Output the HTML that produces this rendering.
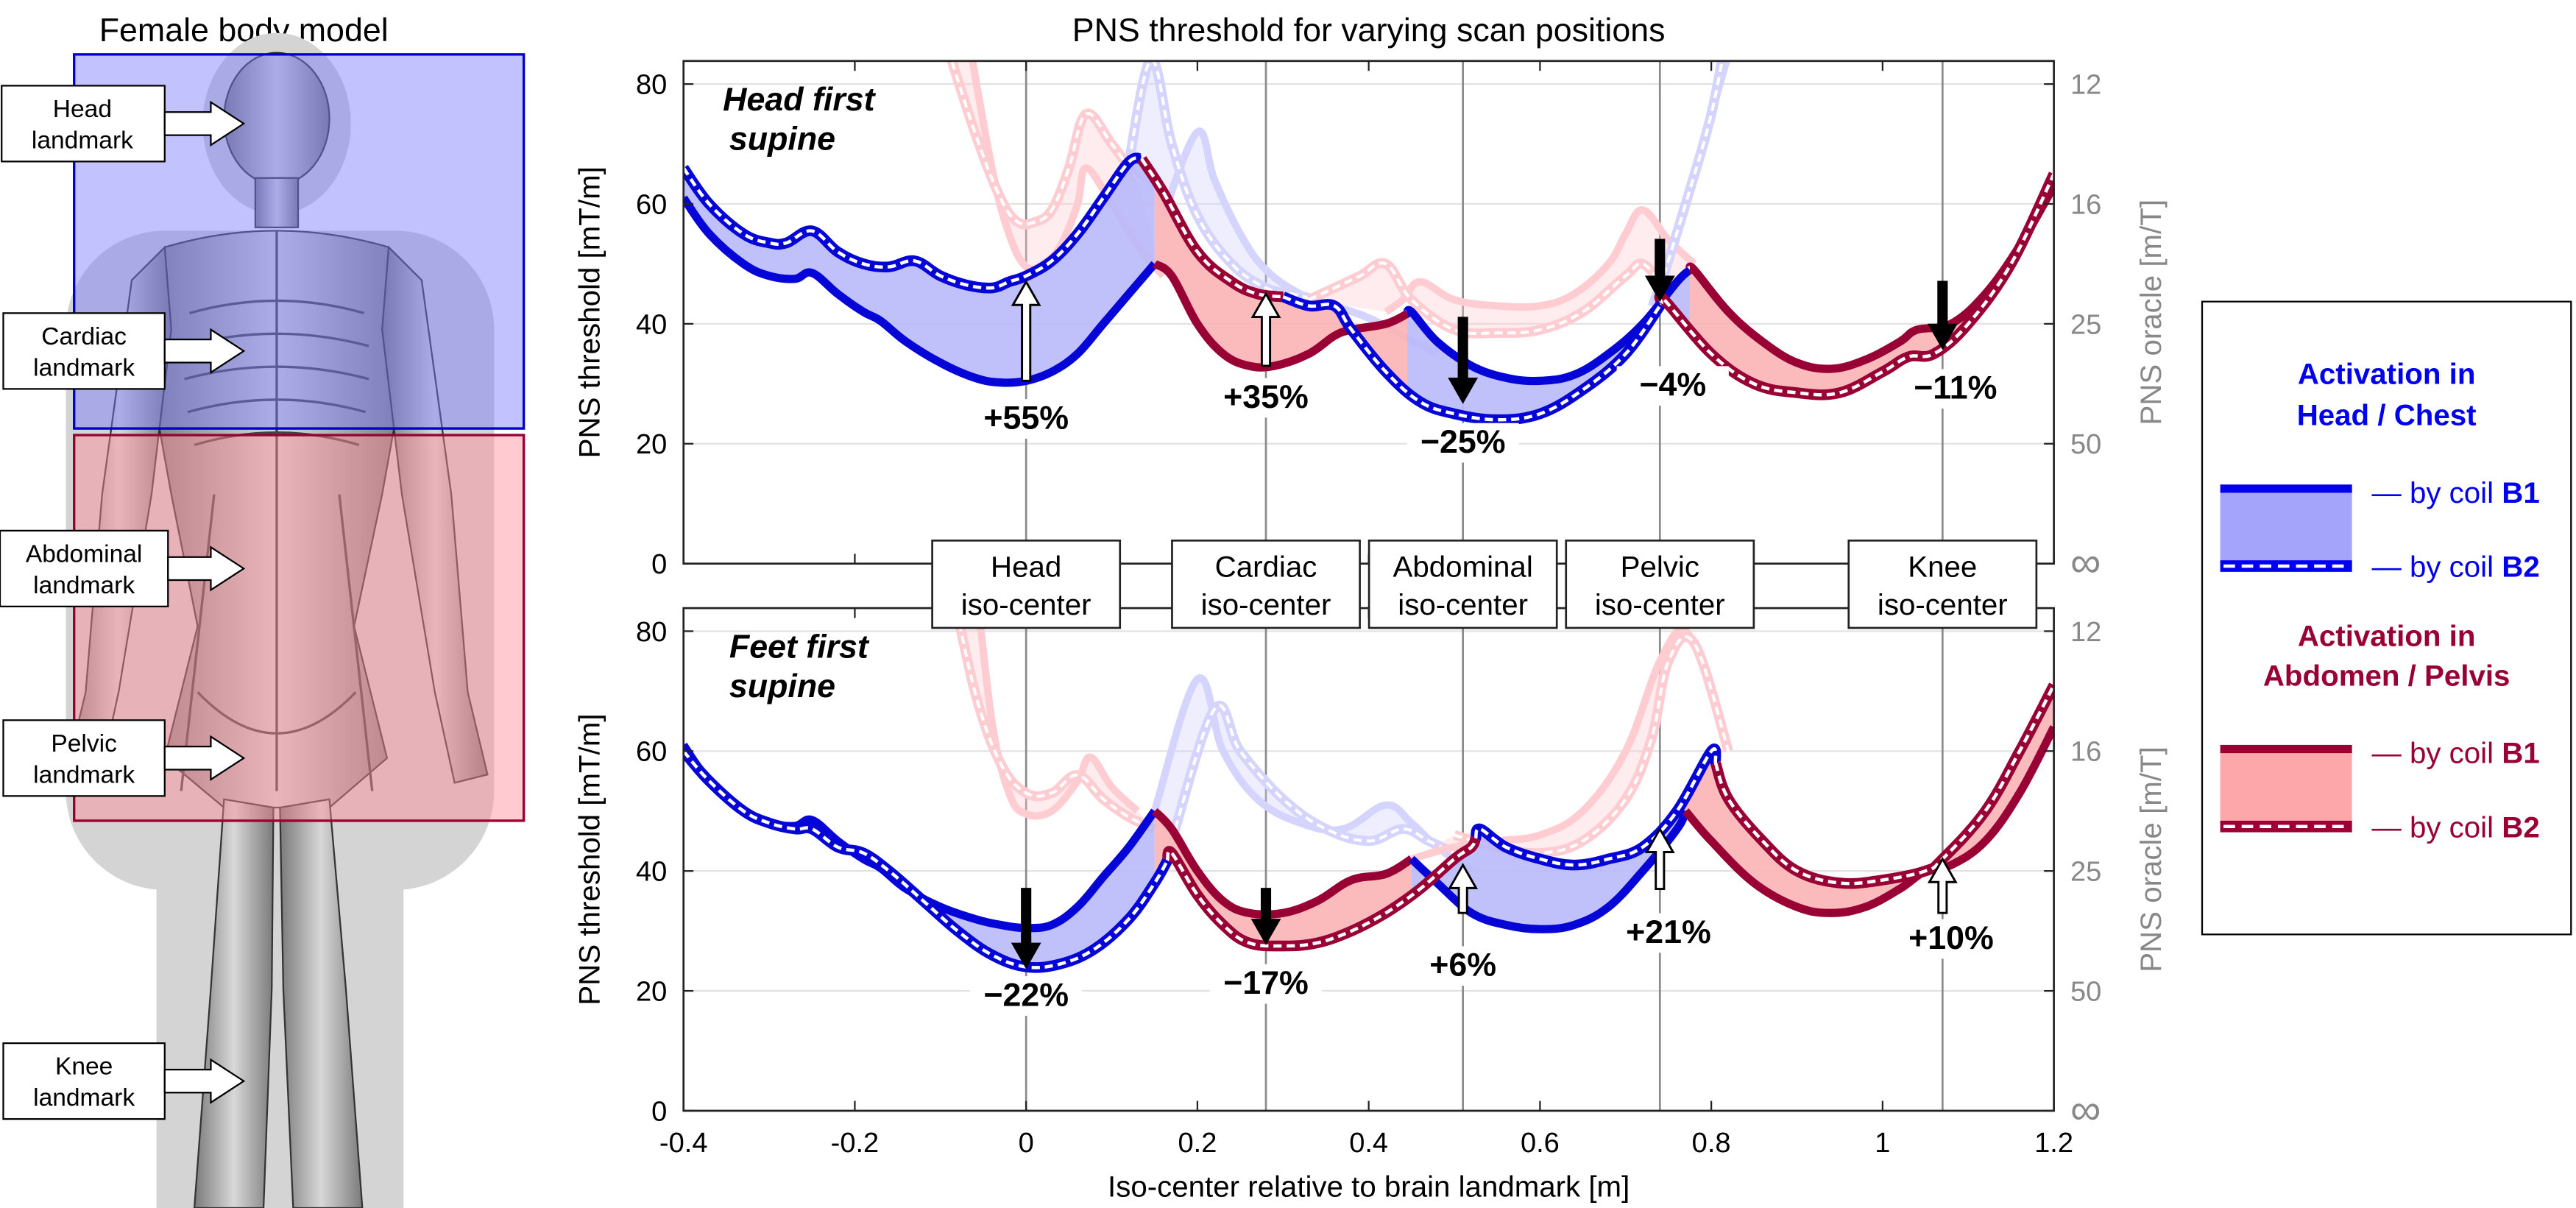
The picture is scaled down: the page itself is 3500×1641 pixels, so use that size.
<!DOCTYPE html>
<html><head><meta charset="utf-8">
<style>
html,body{margin:0;padding:0;background:#fff;}
svg{display:block;font-family:"Liberation Sans",sans-serif;}
</style></head>
<body>
<svg id="fig" width="3500" height="1641" viewBox="0 0 1564 733" preserveAspectRatio="none" xmlns="http://www.w3.org/2000/svg">
<defs>
<clipPath id="clipTop"><rect x="415" y="37" width="832" height="305"/></clipPath>
<clipPath id="clipBot"><rect x="415" y="369" width="832" height="305"/></clipPath>
<linearGradient id="bodyG" x1="0" x2="1" y1="0" y2="0">
<stop offset="0" stop-color="#7a7a7a"/><stop offset="0.5" stop-color="#d8d8d8"/><stop offset="1" stop-color="#7a7a7a"/></linearGradient>
</defs>

<g>
<text x="148" y="25" font-size="20" text-anchor="middle">Female body model</text>
<g fill="#d4d4d4">
<ellipse cx="168" cy="75" rx="45" ry="55"/>
<rect x="40" y="140" width="260" height="400" rx="60"/>
<rect x="95" y="480" width="150" height="253"/>
</g>
<g fill="url(#bodyG)" stroke="#333" stroke-width="1">
<ellipse cx="168" cy="72" rx="32" ry="40"/>
<rect x="155" y="108" width="26" height="30"/>
<path d="M100,150 Q168,130 236,150 L250,200 L232,300 L215,380 L235,460 L200,490 L136,490 L100,460 L120,380 L104,300 L86,200 Z"/>
<path d="M100,150 L80,170 L62,300 L52,420 L40,470 L60,475 L72,420 L92,300 L104,200 Z"/>
<path d="M236,150 L256,170 L274,300 L284,420 L296,470 L276,475 L264,420 L244,300 L232,200 Z"/>
<path d="M136,485 L128,600 L118,733 L160,733 L165,600 L166,490 Z"/>
<path d="M170,490 L172,600 L178,733 L220,733 L210,600 L200,485 Z"/>
</g>
<g stroke="#444" stroke-width="1.5" fill="none">
<path d="M115,190 Q168,175 221,190"/><path d="M112,210 Q168,195 224,210"/><path d="M112,230 Q168,215 224,230"/><path d="M114,250 Q168,235 222,250"/><path d="M118,270 Q168,255 218,270"/>
<line x1="168" y1="140" x2="168" y2="480"/>
<path d="M120,420 Q168,470 216,420"/><path d="M130,300 L110,480"/><path d="M206,300 L226,480"/>
</g>
<rect x="45" y="33" width="273" height="227" fill="rgba(120,120,255,0.45)" stroke="#0000cc" stroke-width="1.5"/>
<rect x="45" y="264" width="273" height="234" fill="rgba(255,140,150,0.45)" stroke="#990033" stroke-width="1.5"/>
<g font-size="15" text-anchor="middle">
<g><rect x="1" y="52" width="99" height="46" fill="#fff" stroke="#000"/><text x="50" y="71">Head</text><text x="50" y="90">landmark</text><path d="M100,68 L128,68 L128,62 L148,75 L128,88 L128,82 L100,82Z" fill="#fff" stroke="#000"/></g>
<g><rect x="2" y="190" width="98" height="46" fill="#fff" stroke="#000"/><text x="51" y="209">Cardiac</text><text x="51" y="228">landmark</text><path d="M100,206 L128,206 L128,200 L148,213 L128,226 L128,220 L100,220Z" fill="#fff" stroke="#000"/></g>
<g><rect x="0" y="322" width="102" height="46" fill="#fff" stroke="#000"/><text x="51" y="341">Abdominal</text><text x="51" y="360">landmark</text><path d="M102,338 L128,338 L128,332 L148,345 L128,358 L128,352 L102,352Z" fill="#fff" stroke="#000"/></g>
<g><rect x="2" y="437" width="98" height="46" fill="#fff" stroke="#000"/><text x="51" y="456">Pelvic</text><text x="51" y="475">landmark</text><path d="M100,453 L128,453 L128,447 L148,460 L128,473 L128,467 L100,467Z" fill="#fff" stroke="#000"/></g>
<g><rect x="2" y="633" width="98" height="46" fill="#fff" stroke="#000"/><text x="51" y="652">Knee</text><text x="51" y="671">landmark</text><path d="M100,649 L128,649 L128,643 L148,656 L128,669 L128,663 L100,663Z" fill="#fff" stroke="#000"/></g>
</g>
</g>

<text x="831" y="25" font-size="20" text-anchor="middle">PNS threshold for varying scan positions</text>
<g id="chart"></g>

<g>
<rect x="1337" y="183" width="224" height="384" fill="#fff" stroke="#000" stroke-width="1"/>
<g font-weight="bold" font-size="18" text-anchor="middle" fill="#0000ee">
<text x="1449" y="233">Activation in</text>
<text x="1449" y="258">Head / Chest</text></g>
<rect x="1348" y="298" width="80" height="45" fill="#a4a4fb"/>
<rect x="1348" y="294" width="80" height="5" fill="#0000ee"/>
<rect x="1348" y="340" width="80" height="7" fill="#0000ee"/>
<line x1="1350" y1="343.5" x2="1426" y2="343.5" stroke="#fff" stroke-width="2" stroke-dasharray="7,4"/>
<g font-size="18" fill="#0000ee">
<text x="1440" y="305">— by coil <tspan font-weight="bold">B1</tspan></text>
<text x="1440" y="350">— by coil <tspan font-weight="bold">B2</tspan></text></g>
<g font-weight="bold" font-size="18" text-anchor="middle" fill="#990033">
<text x="1449" y="392">Activation in</text>
<text x="1449" y="416">Abdomen / Pelvis</text></g>
<rect x="1348" y="456" width="80" height="45" fill="#fda7aa"/>
<rect x="1348" y="452" width="80" height="5" fill="#990033"/>
<rect x="1348" y="498" width="80" height="7" fill="#990033"/>
<line x1="1350" y1="501.5" x2="1426" y2="501.5" stroke="#fff" stroke-width="2" stroke-dasharray="7,4"/>
<g font-size="18" fill="#990033">
<text x="1440" y="463">— by coil <tspan font-weight="bold">B1</tspan></text>
<text x="1440" y="508">— by coil <tspan font-weight="bold">B2</tspan></text></g>
</g>
</svg>
<script>
const xTicks = [-0.4,-0.2,0,0.2,0.4,0.6,0.8,1,1.2];
const xTickLabels = ["-0.4","-0.2","0","0.2","0.4","0.6","0.8","1","1.2"];
const yTicks = [0,20,40,60,80];
const oracleLabels = ["∞","50","25","16","12"];
const isoPositions = [0,0.28,0.51,0.74,1.07];
const isoNames = ["Head","Cardiac","Abdominal","Pelvic","Knee"];
const isoBoxCenters = [0,0.28,0.51,0.74,1.07];

const topB1x=[-0.4,-0.37,-0.33,-0.3,-0.27,-0.25,-0.22,-0.19,-0.17,-0.14,-0.1,-0.06,-0.03,0,0.03,0.06,0.09,0.12,0.15,0.17,0.2,0.23,0.26,0.29,0.33,0.36,0.38,0.42,0.45,0.48,0.52,0.56,0.6,0.64,0.68,0.72,0.76,0.775,0.78,0.82,0.86,0.9,0.94,0.98,1.02,1.04,1.08,1.12,1.16,1.2];
const topB1y=[61,55,50,48,47.5,48.5,45,42,40.5,37,33.5,31,30.2,30.5,32,35,40,45,50,48,40,35,33,33,35,38,39,40,42,37,33,31,30.5,31.5,35,40,47,49,49,42,37,33.5,32.5,34,37,39,40,45,53,63];
const topB2x=[-0.4,-0.37,-0.33,-0.3,-0.28,-0.25,-0.22,-0.19,-0.16,-0.13,-0.1,-0.07,-0.04,-0.02,0,0.03,0.06,0.09,0.12,0.135,0.16,0.2,0.24,0.27,0.3,0.33,0.36,0.38,0.42,0.46,0.5,0.55,0.6,0.65,0.7,0.74,0.745,0.8,0.85,0.9,0.95,1,1.03,1.06,1.1,1.15,1.2];
const topB2y=[66,60,55,53.5,53.5,55.5,52,50,49.5,50.5,48,46.5,46,47,48,50.5,55,61,67,67.5,62,52,47,45,44.5,43,43,39,32,27,25,24,25,29,35,43,44,35,30,28.5,28.5,32,34.5,35,40,50,65];
const topB1Seg=[[-0.4,0.15,"b"],[0.15,0.445,"r"],[0.445,0.775,"b"],[0.775,1.2,"r"]];
const topB2Seg=[[-0.4,0.135,"b"],[0.135,0.3,"r"],[0.3,0.742,"b"],[0.742,1.2,"r"]];

const botB1x=[-0.4,-0.37,-0.33,-0.3,-0.27,-0.25,-0.22,-0.19,-0.17,-0.14,-0.1,-0.06,-0.03,0,0.03,0.06,0.09,0.12,0.15,0.17,0.2,0.23,0.26,0.3,0.34,0.38,0.42,0.45,0.48,0.52,0.56,0.6,0.64,0.68,0.72,0.76,0.77,0.8,0.85,0.9,0.94,0.98,1.02,1.05,1.08,1.12,1.16,1.2];
const botB1y=[61,55,50,48,47.5,48.5,45,42,40.5,37,34,32,31,30.5,31,34,39,44,50,47,40,35,33,33,35,38.5,39.5,42,38,33,31,30.3,31,34,40,47,50,45,38,34,33,34,37,40,41,45,53,64];
const botB2x=[-0.4,-0.37,-0.33,-0.3,-0.27,-0.25,-0.22,-0.19,-0.16,-0.12,-0.08,-0.04,0,0.04,0.08,0.12,0.15,0.17,0.2,0.23,0.26,0.3,0.34,0.38,0.42,0.46,0.5,0.52,0.53,0.56,0.6,0.64,0.68,0.72,0.76,0.8,0.82,0.86,0.9,0.95,1,1.05,1.07,1.12,1.16,1.2];
const botB2y=[60,55,50,48,47,47,44,43,40,35,30,26,24,24.5,27,32,38,43,36,31,28,27.5,28,30,33,37,42,44,47,44,42,41,42,44,50,60,52,45,40,38,38.5,40,42,50,60,71];
const botB1Seg=[[-0.4,0.15,"b"],[0.15,0.45,"r"],[0.45,0.77,"b"],[0.77,1.2,"r"]];
const botB2Seg=[[-0.4,0.165,"b"],[0.165,0.525,"r"],[0.525,0.805,"b"],[0.805,1.2,"r"]];

const topPaleR1B1x=[-0.07,-0.04,-0.02,0,0.02,0.04,0.06,0.07,0.1,0.13,0.16];
const topPaleR1B1y=[90,66,55,49.5,50,53,60,66,60,53,48];
const topPaleR1B2x=[-0.1,-0.06,-0.03,-0.01,0.01,0.03,0.05,0.07,0.1,0.13];
const topPaleR1B2y=[90,72,61,57,57,59,66,75,70,64];
const topPaleB1x=[0.16,0.2,0.22,0.25,0.28,0.32,0.36,0.4,0.44,0.48];
const topPaleB1y=[58,72,64,55,49,45,43,41,38,35];
const topPaleB2x=[0.12,0.146,0.17,0.2,0.24,0.28,0.31,0.34];
const topPaleB2y=[67,84,70,58,50,46,45,44];
const topPaleR2B1x=[0.42,0.44,0.46,0.5,0.55,0.6,0.64,0.68,0.7,0.72,0.75,0.78];
const topPaleR2B1y=[42,44,47,44,43,43,45,50,55,59,54,50];
const topPaleR2B2x=[0.33,0.36,0.39,0.42,0.45,0.5,0.55,0.6,0.65,0.7,0.72,0.745];
const topPaleR2B2y=[44,46,48,50,44,39,38.5,39,42,48,50,46];
const topPaleB3B1x=[0.73,0.76,0.79,0.81,0.83];
const topPaleB3B1y=[43,55,70,80,90];
const topPaleB3B2x=[0.74,0.77,0.8,0.82];
const topPaleB3B2y=[46,60,75,90];

const botPaleR1B1x=[-0.06,-0.04,-0.02,0,0.03,0.06,0.075,0.1,0.13];
const botPaleR1B1y=[90,65,53,49.5,50,55,59,54,50];
const botPaleR1B2x=[-0.09,-0.06,-0.03,0,0.03,0.06,0.09,0.12,0.15];
const botPaleR1B2y=[90,70,58,53,53,56,52,49,47];
const botPaleB1x=[0.15,0.2,0.23,0.27,0.32,0.37,0.42,0.45,0.48,0.52];
const botPaleB1y=[50,72,60,52,48,47,51,48,44,40];
const botPaleB2x=[0.17,0.22,0.25,0.3,0.35,0.4,0.44,0.47,0.5];
const botPaleB2y=[45,67,60,52,47,45,47,45,43];
const botPaleR2B1x=[0.45,0.5,0.55,0.6,0.65,0.7,0.74,0.77,0.8];
const botPaleR2B1y=[42,44,45,46,50,60,75,80,70];
const botPaleR2B2x=[0.5,0.55,0.6,0.65,0.7,0.73,0.75,0.78,0.82];
const botPaleR2B2y=[46,44,43,45,52,62,75,78,60];

const topArrowX=[0,0.28,0.51,0.74,1.07];
const topArrowFrom=[30.5,33,41,54,47];
const topArrowTo=[47,45,27,44,36];
const topPctLabels=["+55%","+35%","−25%","−4%","−11%"];
const topPctLabelX=[0,0.28,0.51,0.755,1.085];
const topPctLabelY=[22.5,26,18.5,28,27.5];
const botArrowX=[0,0.28,0.51,0.74,1.07];
const botArrowFrom=[37,37,33,37,33];
const botArrowTo=[24,28,41,47,42];
const botPctLabels=["−22%","−17%","+6%","+21%","+10%"];
const botPctLabelX=[0,0.28,0.51,0.75,1.08];
const botPctLabelY=[17.5,19.5,22.5,28,27];

const NS="http://www.w3.org/2000/svg";
const chart=document.getElementById('chart');
const X0=415,X1=1247;
function xs(x){return X0+(x+0.4)/1.6*(X1-X0);}
const panels=[{base:342,top:37,clip:"url(#clipTop)",name:"top"},{base:674,top:369,clip:"url(#clipBot)",name:"bottom"}];
function ysF(p){return y=>p.base-y*(291/80);}
function mk(tag,attrs,parent){const e=document.createElementNS(NS,tag);for(const k in attrs)e.setAttribute(k,attrs[k]);(parent||chart).appendChild(e);return e;}
function interp(ax,ay,x){if(x<=ax[0])return ay[0];for(let i=1;i<ax.length;i++){if(x<=ax[i]){const t=(x-ax[i-1])/(ax[i]-ax[i-1]||1);return ay[i-1]+t*(ay[i]-ay[i-1]);}}return ay[ay.length-1];}
function sub(ax,ay,a,b){const pts=[[a,interp(ax,ay,a)]];for(let i=0;i<ax.length;i++)if(ax[i]>a+1e-4&&ax[i]<b-1e-4)pts.push([ax[i],ay[i]]);pts.push([b,interp(ax,ay,b)]);return pts;}
function pathD(pts,ys){
  const P=pts.map(p=>[xs(p[0]),ys(p[1])]);
  let d="M"+P[0][0].toFixed(1)+","+P[0][1].toFixed(1);
  const k=0.18;
  for(let i=0;i<P.length-1;i++){
    const p0=P[Math.max(0,i-1)],p1=P[i],p2=P[i+1],p3=P[Math.min(P.length-1,i+2)];
    const c1=[p1[0]+(p2[0]-p0[0])*k,p1[1]+(p2[1]-p0[1])*k];
    const c2=[p2[0]-(p3[0]-p1[0])*k,p2[1]-(p3[1]-p1[1])*k];
    d+=` C${c1[0].toFixed(1)},${c1[1].toFixed(1)} ${c2[0].toFixed(1)},${c2[1].toFixed(1)} ${p2[0].toFixed(1)},${p2[1].toFixed(1)}`;
  }
  return d;}
const BLUE="#0505d8",RED="#990033",BFILL="#b9b9fb",RFILL="#fbb4b6";

function drawPanel(p,B1x,B1y,B2x,B2y,seg1,seg2,pale,arrX,arrFrom,arrTo,lab,labX,labY,title){
  const ys=ysF(p);
  const g=mk('g',{});
  
  
  yTicks.forEach(v=>{if(v>0){const l=mk('line',{x1:X0,x2:X1,y1:ys(v),y2:ys(v),stroke:"#e2e2e2","stroke-width":1},g);
    
    }});
  isoPositions.forEach((v,i)=>{const l=mk('line',{x1:xs(v),x2:xs(v),y1:p.top,y2:p.base,stroke:"#8a8a8a","stroke-width":1.2},g);
    
    });
  const cg=mk('g',{"clip-path":p.clip},g);
  pale.forEach(pr=>{
    const ptsA=pr.ax.map((x,i)=>[x,pr.ay[i]]),ptsB=pr.bx.map((x,i)=>[x,pr.by[i]]);
    const col=pr.c==="r"?"#ffccd2":"#d4d4ff";
    const f=mk('path',{d:pathD(ptsA,ys)+" "+pathD(ptsB.slice().reverse(),ys).replace("M","L")+"Z",fill:pr.c==="r"?"rgba(255,200,205,0.35)":"rgba(205,205,255,0.35)",stroke:"none"},cg);
    
    
    const l1=mk('path',{d:pathD(ptsA,ys),fill:"none",stroke:col,"stroke-width":4.5,"stroke-linejoin":"round"},cg);
    
    
    const l2=mk('path',{d:pathD(ptsB,ys),fill:"none",stroke:col,"stroke-width":6,"stroke-linejoin":"round"},cg);
    
    
    mk('path',{d:pathD(ptsB,ys),fill:"none",stroke:"#fff","stroke-width":1.8,"stroke-dasharray":"5,3"},cg);
  });
  seg1.forEach(s=>{const a=sub(B1x,B1y,s[0],s[1]),b=sub(B2x,B2y,s[0],s[1]);
    const f=mk('path',{d:pathD(a,ys)+" "+pathD(b.reverse(),ys).replace("M","L")+"Z",fill:s[2]==="b"?BFILL:RFILL,"fill-opacity":0.9},cg);
    
    });
  seg1.forEach(s=>{const l=mk('path',{d:pathD(sub(B1x,B1y,s[0],s[1]),ys),fill:"none",stroke:s[2]==="b"?BLUE:RED,"stroke-width":5,"stroke-linejoin":"round"},cg);
    
    });
  seg2.forEach(s=>{const d=pathD(sub(B2x,B2y,s[0],s[1]),ys);
    const l=mk('path',{d:d,fill:"none",stroke:s[2]==="b"?BLUE:RED,"stroke-width":6.5,"stroke-linejoin":"round"},cg);
    
    
    mk('path',{d:d,fill:"none",stroke:"#fff","stroke-width":2,"stroke-dasharray":"5,3"},cg);});
  arrX.forEach((x,i)=>{const up=arrTo[i]>arrFrom[i];const X=xs(x),ya=ys(arrFrom[i]),yb=ys(arrTo[i]);
    const dir=up?-1:1;const hl=14;
    const d=`M${X-2.5},${ya} L${X-2.5},${yb-dir*hl} L${X-8},${yb-dir*hl} L${X},${yb} L${X+8},${yb-dir*hl} L${X+2.5},${yb-dir*hl} L${X+2.5},${ya} Z`;
    const a=mk('path',{d:d,fill:up?"#fff":"#000",stroke:"#000","stroke-width":1.3},g);
    
    });
  lab.forEach((t,i)=>{const X=xs(labX[i]),Y=ys(labY[i]);
    mk('rect',{x:X-34,y:Y-18,width:68,height:24,fill:"#fff"},g);
    const tx=mk('text',{x:X,y:Y,"font-size":20,"font-weight":"bold","text-anchor":"middle"},g);tx.textContent=t;
    
    });
  const fr=mk('rect',{x:X0,y:p.top,width:X1-X0,height:p.base-p.top,fill:"none",stroke:"#222","stroke-width":1.2},g);
  
  
  yTicks.forEach((v,i)=>{
    const t=mk('text',{x:405,y:ys(v)+6,"font-size":17,"text-anchor":"end"},g);t.textContent=v;
    
    
    const o=mk('text',{x:1257,y:ys(v)+(v===0?8:6),"font-size":v===0?26:17,fill:"#888"},g);o.textContent=oracleLabels[i];
    
    
    mk('line',{x1:X0,x2:X0+6,y1:ys(v),y2:ys(v),stroke:"#222"},g);
    mk('line',{x1:X1,x2:X1-6,y1:ys(v),y2:ys(v),stroke:"#222"},g);});
  xTicks.forEach(v=>{mk('line',{x1:xs(v),x2:xs(v),y1:p.base,y2:p.base-6,stroke:"#222"},g);mk('line',{x1:xs(v),x2:xs(v),y1:p.top,y2:p.top+6,stroke:"#222"},g);});
  const yl=mk('text',{transform:`translate(364,${(p.top+p.base)/2}) rotate(-90)`,"font-size":18,"text-anchor":"middle"},g);yl.textContent="PNS threshold [mT/m]";
  
  
  const ol=mk('text',{transform:`translate(1312,${(p.top+p.base)/2}) rotate(-90)`,"font-size":18,"text-anchor":"middle",fill:"#888"},g);ol.textContent="PNS oracle [m/T]";
  
  
  const tt=mk('text',{x:485,y:p.top+30,"font-size":20,"font-weight":"bold","font-style":"italic","text-anchor":"middle"},g);
  
  
  const s1=mk('tspan',{x:485},tt);s1.textContent=title[0];
  const s2=mk('tspan',{x:475,dy:24},tt);s2.textContent=title[1];
}
drawPanel(panels[0],topB1x,topB1y,topB2x,topB2y,topB1Seg,topB2Seg,[
 {ax:topPaleR1B1x,ay:topPaleR1B1y,bx:topPaleR1B2x,by:topPaleR1B2y,c:"r"},
 {ax:topPaleB1x,ay:topPaleB1y,bx:topPaleB2x,by:topPaleB2y,c:"b"},
 {ax:topPaleR2B1x,ay:topPaleR2B1y,bx:topPaleR2B2x,by:topPaleR2B2y,c:"r"},
 {ax:topPaleB3B1x,ay:topPaleB3B1y,bx:topPaleB3B2x,by:topPaleB3B2y,c:"b"}],
 topArrowX,topArrowFrom,topArrowTo,topPctLabels,topPctLabelX,topPctLabelY,["Head first","supine"]);
drawPanel(panels[1],botB1x,botB1y,botB2x,botB2y,botB1Seg,botB2Seg,[
 {ax:botPaleR1B1x,ay:botPaleR1B1y,bx:botPaleR1B2x,by:botPaleR1B2y,c:"r"},
 {ax:botPaleB1x,ay:botPaleB1y,bx:botPaleB2x,by:botPaleB2y,c:"b"},
 {ax:botPaleR2B1x,ay:botPaleR2B1y,bx:botPaleR2B2x,by:botPaleR2B2y,c:"r"}],
 botArrowX,botArrowFrom,botArrowTo,botPctLabels,botPctLabelX,botPctLabelY,["Feet first","supine"]);

isoBoxCenters.forEach((v,i)=>{const X=xs(v);
  const r=mk('rect',{x:X-57,y:328,width:114,height:53,fill:"#fff",stroke:"#222","stroke-width":1.2});
  
  
  const t1=mk('text',{x:X,y:350,"font-size":18,"text-anchor":"middle"});t1.textContent=isoNames[i];
  const t2=mk('text',{x:X,y:373,"font-size":18,"text-anchor":"middle"});t2.textContent="iso-center";});
xTicks.forEach((v,i)=>{const t=mk('text',{x:xs(v),y:699,"font-size":17,"text-anchor":"middle"});t.textContent=xTickLabels[i];
  
  });
const xl=mk('text',{x:831,y:726,"font-size":18,"text-anchor":"middle"});xl.textContent="Iso-center relative to brain landmark [m]";


</script>
</body></html>
